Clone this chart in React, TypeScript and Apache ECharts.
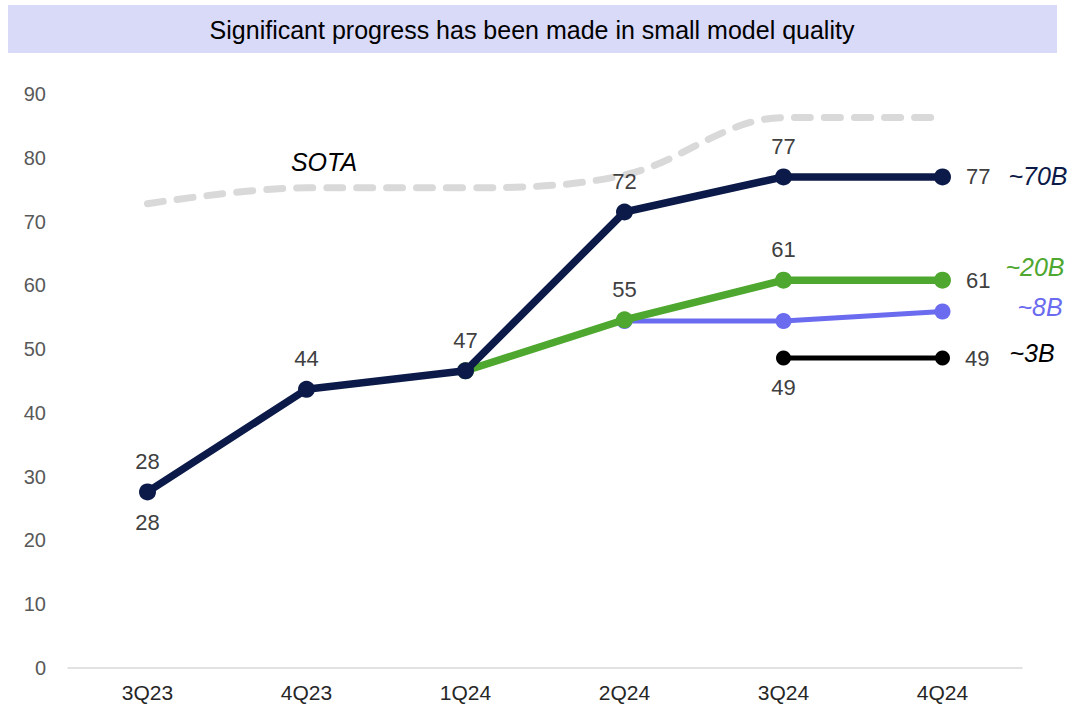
import React, { useEffect, useRef } from "react";
import * as echarts from "echarts";

const categories = ["3Q23", "4Q23", "1Q24", "2Q24", "3Q24", "4Q24"];
const sota = [72.8, 75.3, 75.3, 77.3, 86.3, 86.3];
const b70 = [27.6, 43.7, 46.6, 71.5, 77.0, 77.0];
const b20 = [null, null, 46.6, 54.6, 60.8, 60.8];
const b8 = [null, null, null, 54.4, 54.4, 55.9];
const b3 = [null, null, null, null, 48.6, 48.6];
const yTicks = [0, 10, 20, 30, 40, 50, 60, 70, 80, 90];

const title = "Significant progress has been made in small model quality";
const NAVY = "#0B1A48";
const GREEN = "#4EA72E";
const PURPLE = "#6B6BF0";
const FONT = "'Liberation Sans', Arial, sans-serif";

function labelFor(idxTop: number[], idxRight: number[], idxBottom: number[] = []) {
  return (v: number | null, i: number) => {
    if (v === null) return null;
    let pos: string | null = null;
    if (idxTop.includes(i)) pos = "top";
    if (idxRight.includes(i)) pos = "right";
    if (idxBottom.includes(i)) pos = "bottom";
    if (!pos) return v;
    return {
      value: v,
      label: {
        show: true,
        position: pos,
        distance: pos === "right" ? 15 : 11,
        formatter: (p: any) => String(Math.round(p.value)),
        color: "#404040",
        fontSize: 22,
        fontFamily: FONT,
      },
    };
  };
}

export default function App() {
  const ref = useRef<HTMLDivElement>(null);
  useEffect(() => {
    if (!ref.current) return;
    const chart = echarts.init(ref.current, null, { renderer: "svg" });
    const nameStyle = (text: string, fill: string) => ({
      text,
      fill,
      fontSize: 25,
      fontStyle: "italic",
      fontFamily: FONT,
      align: "center",
      verticalAlign: "middle",
    });
    chart.setOption({
      animation: false,
      backgroundColor: "#ffffff",
      grid: { left: 68, right: 54, top: 94, bottom: 44, containLabel: false },
      xAxis: {
        type: "category",
        data: categories,
        boundaryGap: true,
        axisLine: { show: true, lineStyle: { color: "#D9D9D9", width: 1.5 } },
        axisTick: { show: false },
        axisLabel: {
          color: "#262626",
          fontSize: 21,
          margin: 14,
          fontFamily: FONT,
        },
      },
      yAxis: {
        type: "value",
        min: 0,
        max: 90,
        interval: 10,
        axisLine: { show: false },
        axisTick: { show: false },
        splitLine: { show: false },
        axisLabel: {
          color: "#595959",
          fontSize: 20,
          margin: 22,
          fontFamily: FONT,
          formatter: (v: number) => (yTicks.includes(v) ? String(v) : ""),
        },
      },
      series: [
        {
          name: "SOTA",
          type: "line",
          data: sota,
          smooth: 0.35,
          symbol: "none",
          lineStyle: { color: "#D9D9D9", width: 7, type: [16, 14], cap: "round" },
          z: 1,
        },
        {
          name: "~3B",
          type: "line",
          data: b3.map(labelFor([], [5], [4])),
          symbol: "circle",
          symbolSize: 15,
          itemStyle: { color: "#000000" },
          lineStyle: { color: "#000000", width: 5 },
          z: 2,
        },
        {
          name: "~8B",
          type: "line",
          data: b8,
          symbol: "circle",
          symbolSize: 16,
          showSymbol: true,
          itemStyle: { color: PURPLE },
          lineStyle: { color: PURPLE, width: 5 },
          z: 3,
        },
        {
          name: "~20B",
          type: "line",
          data: b20.map(labelFor([3, 4], [5])),
          symbol: "circle",
          symbolSize: 17,
          itemStyle: { color: GREEN },
          lineStyle: { color: GREEN, width: 7.5 },
          z: 4,
        },
        {
          name: "~70B",
          type: "line",
          data: b70.map(labelFor([0, 1, 2, 3, 4], [5])),
          symbol: "circle",
          symbolSize: 17,
          itemStyle: { color: NAVY },
          lineStyle: { color: NAVY, width: 7.5 },
          z: 5,
        },
        {
          name: "~70B-below",
          type: "line",
          data: b70.map((v, i) => (i === 0 ? v : null)).map(labelFor([], [], [0])),
          symbol: "circle",
          symbolSize: 17,
          itemStyle: { color: "rgba(0,0,0,0)" },
          lineStyle: { width: 0, opacity: 0 },
          z: 0,
        },
      ],
      graphic: [
        {
          type: "rect",
          shape: { x: 8, y: 5, width: 1049, height: 48 },
          style: { fill: "#D9D9F8" },
          z: 0,
        },
        {
          type: "text",
          x: 532,
          y: 30,
          style: {
            text: title,
            fill: "#000000",
            fontSize: 25,
            fontFamily: FONT,
            align: "center",
            verticalAlign: "middle",
          },
        },
        { type: "text", x: 324, y: 162, style: nameStyle("SOTA", "#000000") },
        { type: "text", x: 1038, y: 176, style: nameStyle("~70B", NAVY) },
        { type: "text", x: 1035, y: 267, style: nameStyle("~20B", GREEN) },
        { type: "text", x: 1040, y: 307, style: nameStyle("~8B", PURPLE) },
        { type: "text", x: 1032, y: 353, style: nameStyle("~3B", "#000000") },
      ],
    });
    return () => chart.dispose();
  }, []);
  return (
    <div
      ref={ref}
      style={{ position: "fixed", left: 0, top: 0, width: 1076, height: 712, background: "#fff" }}
    />
  );
}
